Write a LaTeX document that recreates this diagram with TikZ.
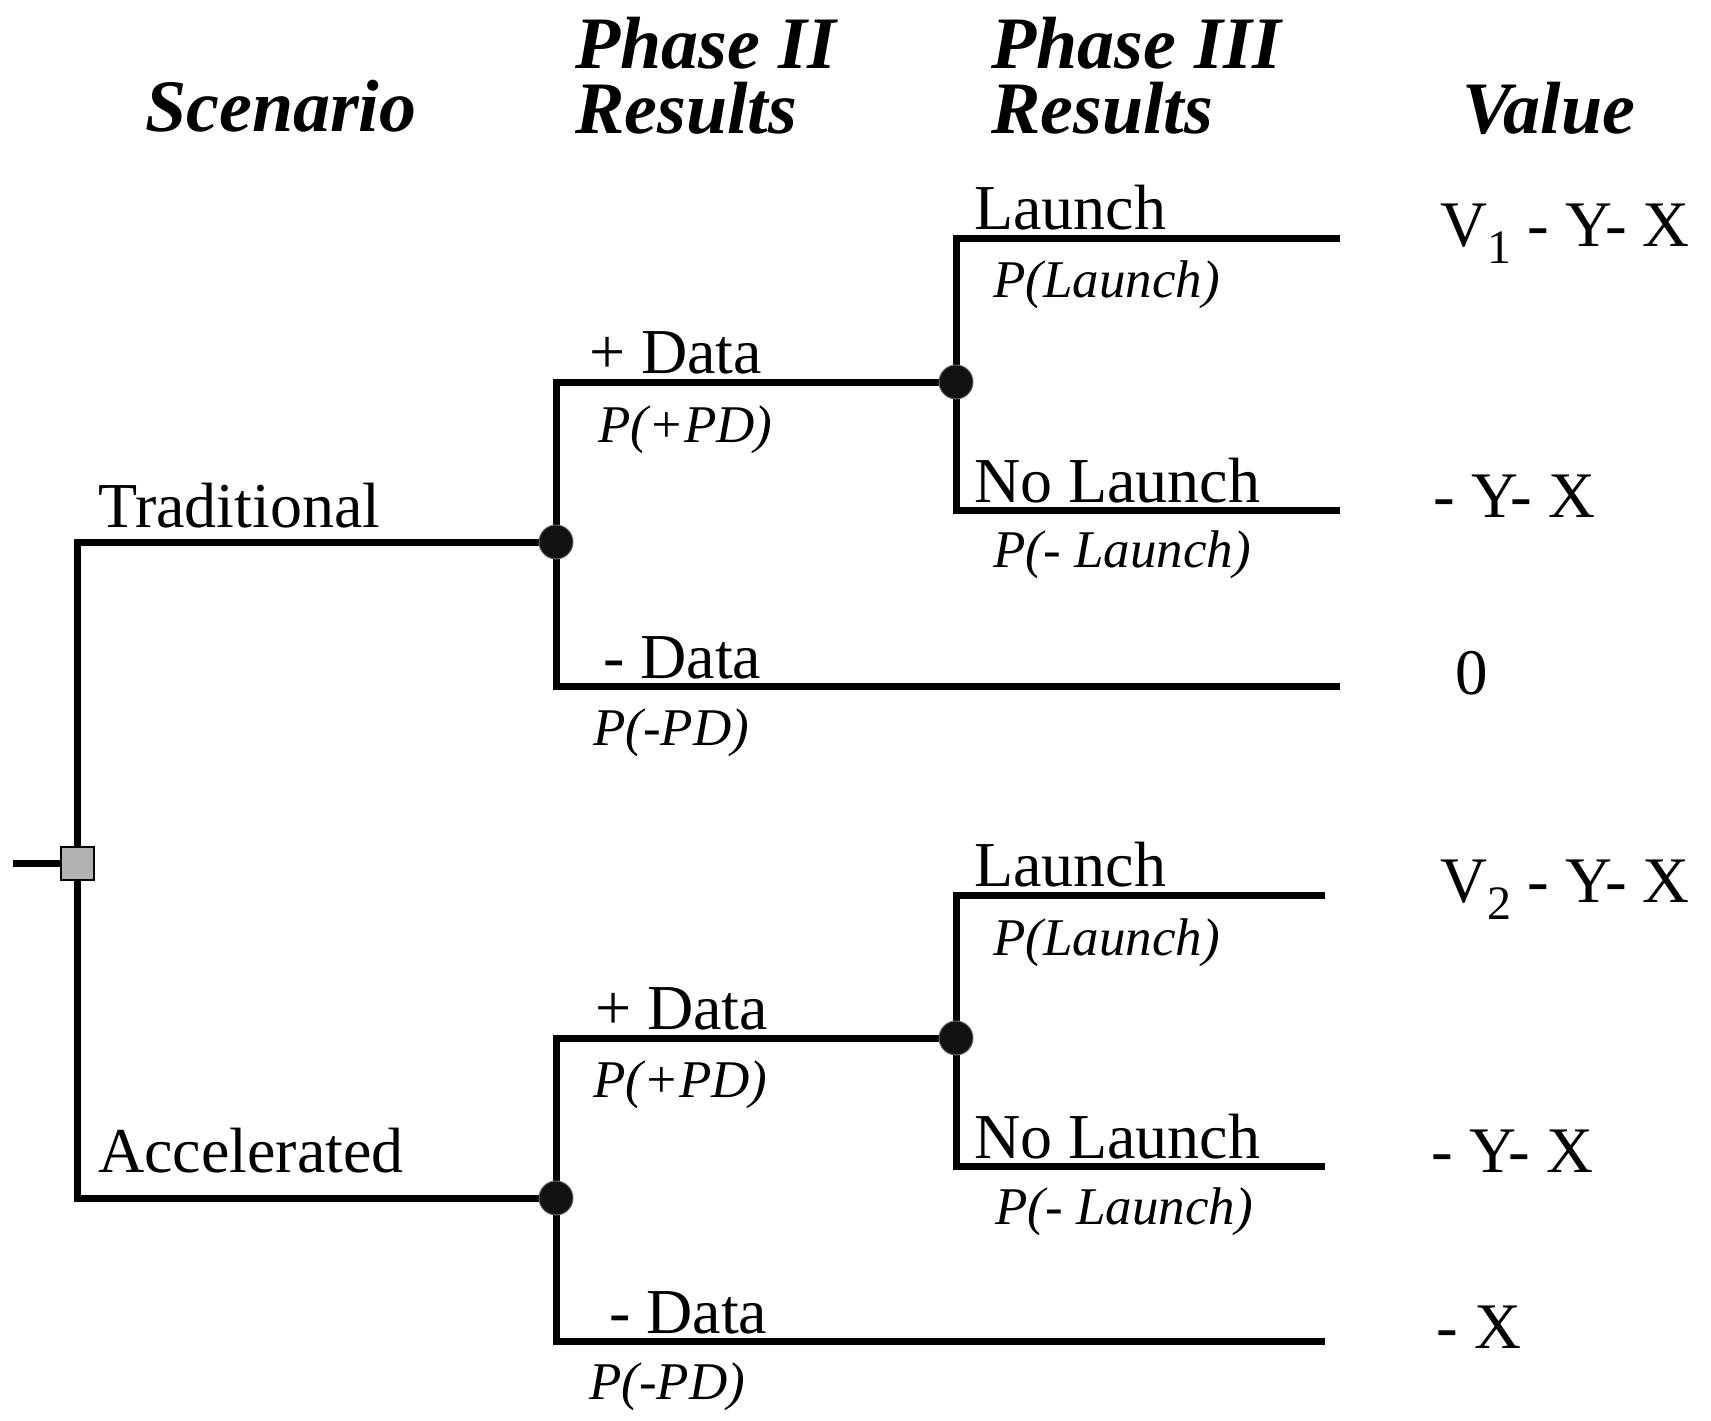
\documentclass[tikz,border=0pt]{standalone}
\usepackage{fontspec}
\setmainfont{Liberation Serif}
\begin{document}
\begin{tikzpicture}[x=1pt,y=-1pt,
  branch/.style={line width=7pt, line join=miter},
  chance/.style={circle, fill=black!93, draw=black!60, line width=1pt, minimum size=34pt, inner sep=0pt},
  decision/.style={rectangle, fill=black!30, draw=black, line width=2pt, minimum size=33pt, inner sep=0pt},
  lbl/.style={anchor=base west, inner sep=0pt, font=\fontsize{64}{64}\selectfont},
  prob/.style={anchor=base west, inner sep=0pt, font=\fontsize{53}{53}\selectfont\itshape},
  head/.style={anchor=base west, inner sep=0pt, align=left, font=\fontsize{74}{65}\selectfont\bfseries\itshape},
  val/.style={anchor=base west, inner sep=0pt, font=\fontsize{65}{65}\selectfont}]
\useasboundingbox (0,0) rectangle (1711,1421);

% column headings (two-line headings are anchored on their last line)
\node[head] (hscen) at (145,131) {Scenario};
\node[head] (hp2) at (575,133) {Phase II\\Results};
\node[head] (hp3) at (991,133) {Phase III\\Results};
\node[head] (hval) at (1462,133) {Value};

% tree points
\coordinate (stub) at (13,863);
\coordinate (d) at (77,863);
\coordinate (c1) at (556,542);
\coordinate (c2) at (956,382);
\coordinate (e1) at (1340,238);
\coordinate (e2) at (1340,510);
\coordinate (e3) at (1340,686);
\coordinate (c3) at (556,1198);
\coordinate (c4) at (956,1038);
\coordinate (e4) at (1325,895);
\coordinate (e5) at (1325,1166);
\coordinate (e6) at (1325,1341);

% branches
\draw[branch] (stub) -- (d);
\draw[branch] (d) |- (c1);
\draw[branch] (d) |- (c3);
\draw[branch] (c1) |- (c2);
\draw[branch] (c1) |- (e3);
\draw[branch] (c2) |- (e1);
\draw[branch] (c2) |- (e2);
\draw[branch] (c3) |- (c4);
\draw[branch] (c3) |- (e6);
\draw[branch] (c4) |- (e4);
\draw[branch] (c4) |- (e5);

% decision and chance nodes
\node[decision] (dn) at (d) {};
\node[chance] (c1n) at (c1) {};
\node[chance] (c2n) at (c2) {};
\node[chance] (c3n) at (c3) {};
\node[chance] (c4n) at (c4) {};

% upper subtree labels
\node[lbl] (ltrad) at (98,527) {Traditional};
\node[lbl] (lpd1) at (589,373) {+ Data};
\node[prob] (ppd1) at (598,442) {P(+PD)};
\node[lbl] (llau1) at (974,229) {Launch};
\node[prob] (plau1) at (993,297) {P(Launch)};
\node[lbl] (lnl1) at (974,502) {No Launch};
\node[prob] (pnl1) at (993,567) {P(- Launch)};
\node[lbl] (lnd1) at (603,678) {- Data};
\node[prob] (pnd1) at (593,745) {P(-PD)};

% lower subtree labels
\node[lbl] (lacc) at (98,1172) {Accelerated};
\node[lbl] (lpd2) at (595,1029) {+ Data};
\node[prob] (ppd2) at (593,1097) {P(+PD)};
\node[lbl] (llau2) at (974,886) {Launch};
\node[prob] (plau2) at (993,955) {P(Launch)};
\node[lbl] (lnl2) at (974,1158) {No Launch};
\node[prob] (pnl2) at (995,1224) {P(- Launch)};
\node[lbl] (lnd2) at (609,1333) {- Data};
\node[prob] (pnd2) at (589,1399) {P(-PD)};

% values
\node[val] (v1) at (1440,246) {V\raisebox{-17pt}{\fontsize{48}{48}\selectfont 1} - Y- X};
\node[val] (v2) at (1433,517) {- Y- X};
\node[val] (v3) at (1455,694) {0};
\node[val] (v4) at (1440,902) {V\raisebox{-17pt}{\fontsize{48}{48}\selectfont 2} - Y- X};
\node[val] (v5) at (1431,1172) {- Y- X};
\node[val] (v6) at (1436,1348) {- X};
\end{tikzpicture}
\end{document}
